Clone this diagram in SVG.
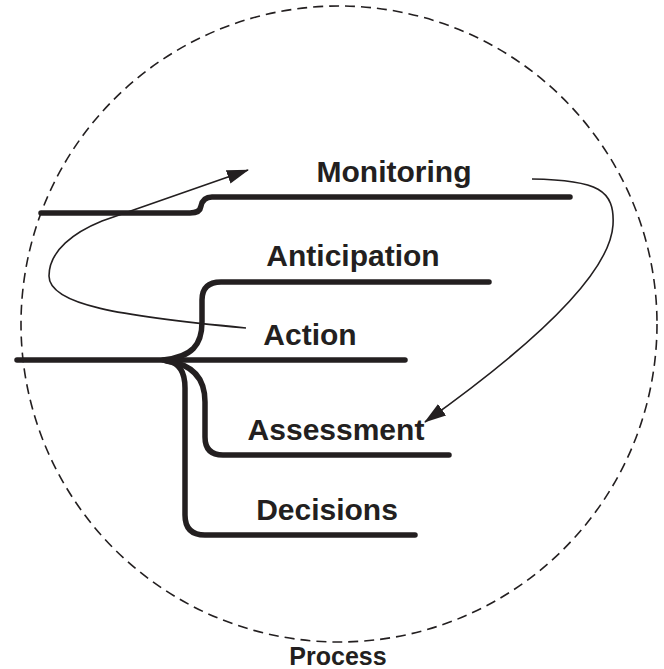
<svg xmlns="http://www.w3.org/2000/svg" width="664" height="669" viewBox="0 0 664 669">
<defs>
<style>
.lbl{font-family:"Liberation Sans",Arial,sans-serif;font-weight:bold;font-size:30px;fill:#231f20}
.br{fill:none;stroke:#231f20;stroke-width:5.5;stroke-linecap:round;stroke-linejoin:round}
.th{fill:none;stroke:#231f20;stroke-width:1.6}
</style>
<marker id="ah" viewBox="0 0 22 14" refX="21" refY="7" markerWidth="22" markerHeight="14" markerUnits="userSpaceOnUse" orient="auto">
<path d="M0,0 L22,7 L0,14 Z" fill="#231f20"/>
</marker>
</defs>
<rect width="664" height="669" fill="#fff"/>
<g id="process">
<circle cx="339" cy="324" r="318" fill="none" stroke="#231f20" stroke-width="1.6" stroke-dasharray="10,6"/>
<text class="lbl" x="338" y="665" text-anchor="middle" style="font-size:25px">Process</text>
</g>
<g id="connectors">
<path class="br" d="M41,213 L190,213 Q200,213 201,206 Q203,197 212,197 L570,197"/>
<path class="br" d="M17,360 L405,360"/>
<path class="br" d="M163,360 C192,357 202,345 202,322 L202,300 Q202,282 221,282 L489,282"/>
<path class="br" d="M166,361 C192,364 205,378 205,402 L205,437 Q205,455 223,455 L449,455"/>
<path class="br" d="M168,361 Q185,364 185,388 L185,515 Q185,535 205,535 L415,535"/>
<path class="th" d="M246,328 C120,316 49,305 49,276 C49,250 75,232 102,221 L248,170" marker-end="url(#ah)"/>
<path class="th" d="M532,179 C598,180 615,190 613,225 C610,272 540,340 425,422" marker-end="url(#ah)"/>
</g>
<g id="monitoring"><text class="lbl" x="394" y="182" text-anchor="middle">Monitoring</text></g>
<g id="anticipation"><text class="lbl" x="353" y="266" text-anchor="middle">Anticipation</text></g>
<g id="action"><text class="lbl" x="310" y="345" text-anchor="middle">Action</text></g>
<g id="assessment"><text class="lbl" x="336" y="440" text-anchor="middle">Assessment</text></g>
<g id="decisions"><text class="lbl" x="327" y="520" text-anchor="middle">Decisions</text></g>
</svg>
